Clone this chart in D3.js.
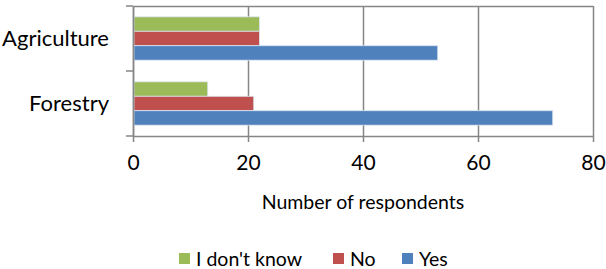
<!DOCTYPE html>
<html>
<head>
<meta charset="utf-8">
<script src="https://cdn.jsdelivr.net/npm/d3@7"></script>
<style>
  body { margin: 0; background: #fff; }
  text { font-family: Lato, "Open Sans", sans-serif; fill: #000; }
</style>
</head>
<body>
<div id="chart"></div>
<script>
const categories = ["Agriculture", "Forestry"];
const seriesNames = ["I don't know", "No", "Yes"];
const dontKnow = [22, 13];
const no = [22, 21];
const yes = [53, 73];
const xTicks = [0, 20, 40, 60, 80];
const seriesColors = ["#9BBB59", "#C0504D", "#4F81BD"];

const margin = { top: 6, right: 13, bottom: 133, left: 133 };
const width = 606 - margin.left - margin.right;
const height = 269 - margin.top - margin.bottom;

const values = [dontKnow, no, yes];

const svg = d3.select("#chart")
    .append("svg")
    .attr("width", 606)
    .attr("height", 269)
    .append("g")
    .attr("transform", `translate(${margin.left},${margin.top})`);

const x = d3.scaleLinear()
    .domain([0, 80])
    .range([0, width]);

const y0 = d3.scaleBand()
    .domain(categories)
    .range([0, height]);

// gap width 150% like Excel
const y1 = d3.scaleBand()
    .domain(seriesNames)
    .range([0, y0.bandwidth()])
    .paddingOuter(0.75)
    .paddingInner(0);

// gridlines
svg.append("g")
    .selectAll("line")
    .data(xTicks)
    .join("line")
    .attr("x1", d => Math.round(x(d)) + 0.5)
    .attr("x2", d => Math.round(x(d)) + 0.5)
    .attr("y1", 0)
    .attr("y2", height)
    .attr("stroke", "#868686")
    .attr("stroke-width", 1.5);

// top border
svg.append("line")
    .attr("x1", 0).attr("x2", width)
    .attr("y1", 0.5).attr("y2", 0.5)
    .attr("stroke", "#868686")
    .attr("stroke-width", 1.5);

const groups = svg.selectAll(".cat")
    .data(categories)
    .join("g")
    .attr("class", "cat")
    .attr("transform", d => `translate(0,${y0(d)})`);

groups.selectAll("rect")
    .data((c, ci) => seriesNames.map((s, si) => ({ s, si, v: values[si][ci] })))
    .join("rect")
    .attr("x", x(0) + 1)
    .attr("y", d => y1(d.s))
    .attr("width", d => x(d.v) - x(0) - 1)
    .attr("height", y1.bandwidth())
    .attr("fill", d => seriesColors[d.si])
    .attr("stroke", "#dde6f2")
    .attr("stroke-width", 0.8);

// left axis
const yAxis = svg.append("g")
    .call(d3.axisLeft(y0).tickSize(0).tickPadding(24));
yAxis.select(".domain")
    .attr("stroke", "#868686")
    .attr("stroke-width", 1.5);
yAxis.selectAll("text")
    .style("font-size", "22px");
yAxis.append("g")
    .selectAll("line")
    .data([0, y0.bandwidth(), height])
    .join("line")
    .attr("x1", -7).attr("x2", 0)
    .attr("y1", d => d).attr("y2", d => d)
    .attr("stroke", "#868686")
    .attr("stroke-width", 1.5);

// bottom axis
const xAxis = svg.append("g")
    .attr("transform", `translate(0,${height})`)
    .call(d3.axisBottom(x).tickValues(xTicks).tickSize(6).tickPadding(13).tickSizeOuter(0));
xAxis.select(".domain")
    .attr("stroke", "#868686")
    .attr("stroke-width", 1.5);
xAxis.selectAll(".tick line")
    .attr("stroke", "#868686")
    .attr("stroke-width", 1.5);
xAxis.selectAll("text")
    .style("font-size", "21px");

svg.append("text")
    .attr("x", width / 2)
    .attr("y", height + 73)
    .attr("text-anchor", "middle")
    .style("font-size", "19.5px")
    .text("Number of respondents");

// legend
const legendX = [179, 333, 402];
const legend = d3.select("svg")
    .append("g")
    .attr("transform", "translate(0,253)");

const items = legend.selectAll("g")
    .data(seriesNames)
    .join("g")
    .attr("transform", (d, i) => `translate(${legendX[i]},0)`);

items.append("rect")
    .attr("width", 11)
    .attr("height", 11)
    .attr("fill", (d, i) => seriesColors[i]);

items.append("text")
    .attr("x", 17)
    .attr("y", 12.5)
    .style("font-size", "19.5px")
    .text(d => d);
</script>
</body>
</html>
